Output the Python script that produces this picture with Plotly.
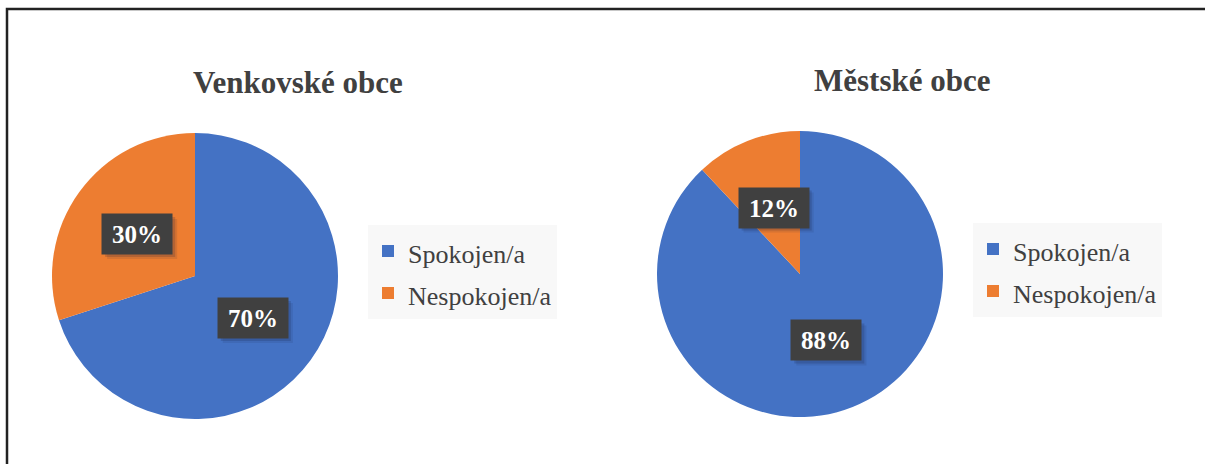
import math
import plotly.graph_objects as go

# ---- data ----
categories = ["Spokojen/a", "Nespokojen/a"]
venkov_values = [70, 30]
mesto_values = [88, 12]
titles = ["Venkovské obce", "Městské obce"]
colors = ["#4472C4", "#ED7D31"]

W, H = 1205, 464
SERIF = "Liberation Serif, Times New Roman, serif"
TXT = "#404040"

def px_x(x):
    return x / W

def px_y(y):
    return (H - y) / H

def legend_label(c, suffix=""):
    # legend font sets row pitch; the span sets the visible text size
    return '<span style="font-size:26px">%s</span>%s' % (c, suffix)

# pie geometry in pixels (center x, center y, radius)
pies = [
    dict(values=venkov_values, labels=[legend_label(c) for c in categories],
         cx=195, cy=276, r=143, title=titles[0], tx=298, ty=82, legend="legend"),
    # zero-width space keeps the second legend's entries distinct from the first
    dict(values=mesto_values, labels=[legend_label(c, "\u200b") for c in categories],
         cx=800, cy=274, r=143, title=titles[1], tx=902, ty=80, legend="legend2"),
]

BOX_W, BOX_H, PAD = 56, 26, 7

fig = go.Figure()
annotations = []
shapes = [dict(type="rect", xref="paper", yref="paper",
               x0=px_x(7), x1=1.02, y0=-0.02, y1=px_y(9),
               line=dict(color="#222222", width=2.5))]

for p in pies:
    fig.add_trace(go.Pie(
        labels=p["labels"],
        values=p["values"],
        sort=False,
        direction="clockwise",
        rotation=0,
        marker=dict(colors=colors, line=dict(width=0)),
        textinfo="none",
        hoverinfo="percent",
        domain=dict(x=[px_x(p["cx"] - p["r"]), px_x(p["cx"] + p["r"])],
                    y=[px_y(p["cy"] + p["r"]), px_y(p["cy"] - p["r"])]),
        legend=p["legend"],
        showlegend=True,
    ))
    # title
    annotations.append(dict(
        text="<b>%s</b>" % p["title"], x=px_x(p["tx"]), y=px_y(p["ty"]),
        xref="paper", yref="paper", showarrow=False, xanchor="center", yanchor="middle",
        font=dict(family=SERIF, size=31, color=TXT),
    ))
    # data labels positioned at the middle angle of each slice
    total = sum(p["values"])
    cum = 0
    for v in p["values"]:
        mid = (cum + v / 2) / total * 2 * math.pi
        cum += v
        lx = p["cx"] + 0.5 * p["r"] * math.sin(mid)
        ly = p["cy"] - 0.5 * p["r"] * math.cos(mid)
        hw, hh = BOX_W / 2 + PAD, BOX_H / 2 + PAD
        # soft shadow behind the label box
        for k, a in ((5, 0.10), (3, 0.18)):
            shapes.append(dict(
                type="rect", xref="paper", yref="paper", layer="above",
                x0=px_x(lx - hw + k), x1=px_x(lx + hw + k),
                y0=px_y(ly + hh + k), y1=px_y(ly - hh + k),
                fillcolor="rgba(20,30,60,%.2f)" % a, line=dict(width=0),
            ))
        annotations.append(dict(
            text="<b>%d%%</b>" % round(v / total * 100), x=px_x(lx), y=px_y(ly),
            xref="paper", yref="paper", showarrow=False, xanchor="center", yanchor="middle",
            width=BOX_W, height=BOX_H, bgcolor="#404040", borderpad=PAD,
            font=dict(family=SERIF, size=25, color="white"),
        ))

legend_common = dict(
    bgcolor="#f8f8f8", borderwidth=0, xanchor="left", yanchor="top",
    font=dict(family=SERIF, size=30, color=TXT), tracegroupgap=0,
)

fig.update_layout(
    width=W, height=H,
    margin=dict(l=0, r=0, t=0, b=0),
    paper_bgcolor="white",
    plot_bgcolor="white",
    annotations=annotations,
    legend=dict(x=px_x(368), y=px_y(225), **legend_common),
    legend2=dict(x=px_x(973), y=px_y(223), **legend_common),
    shapes=shapes,
)

fig.write_html("out.html", config={"displayModeBar": False},
               post_script="document.body.style.margin='0';")
